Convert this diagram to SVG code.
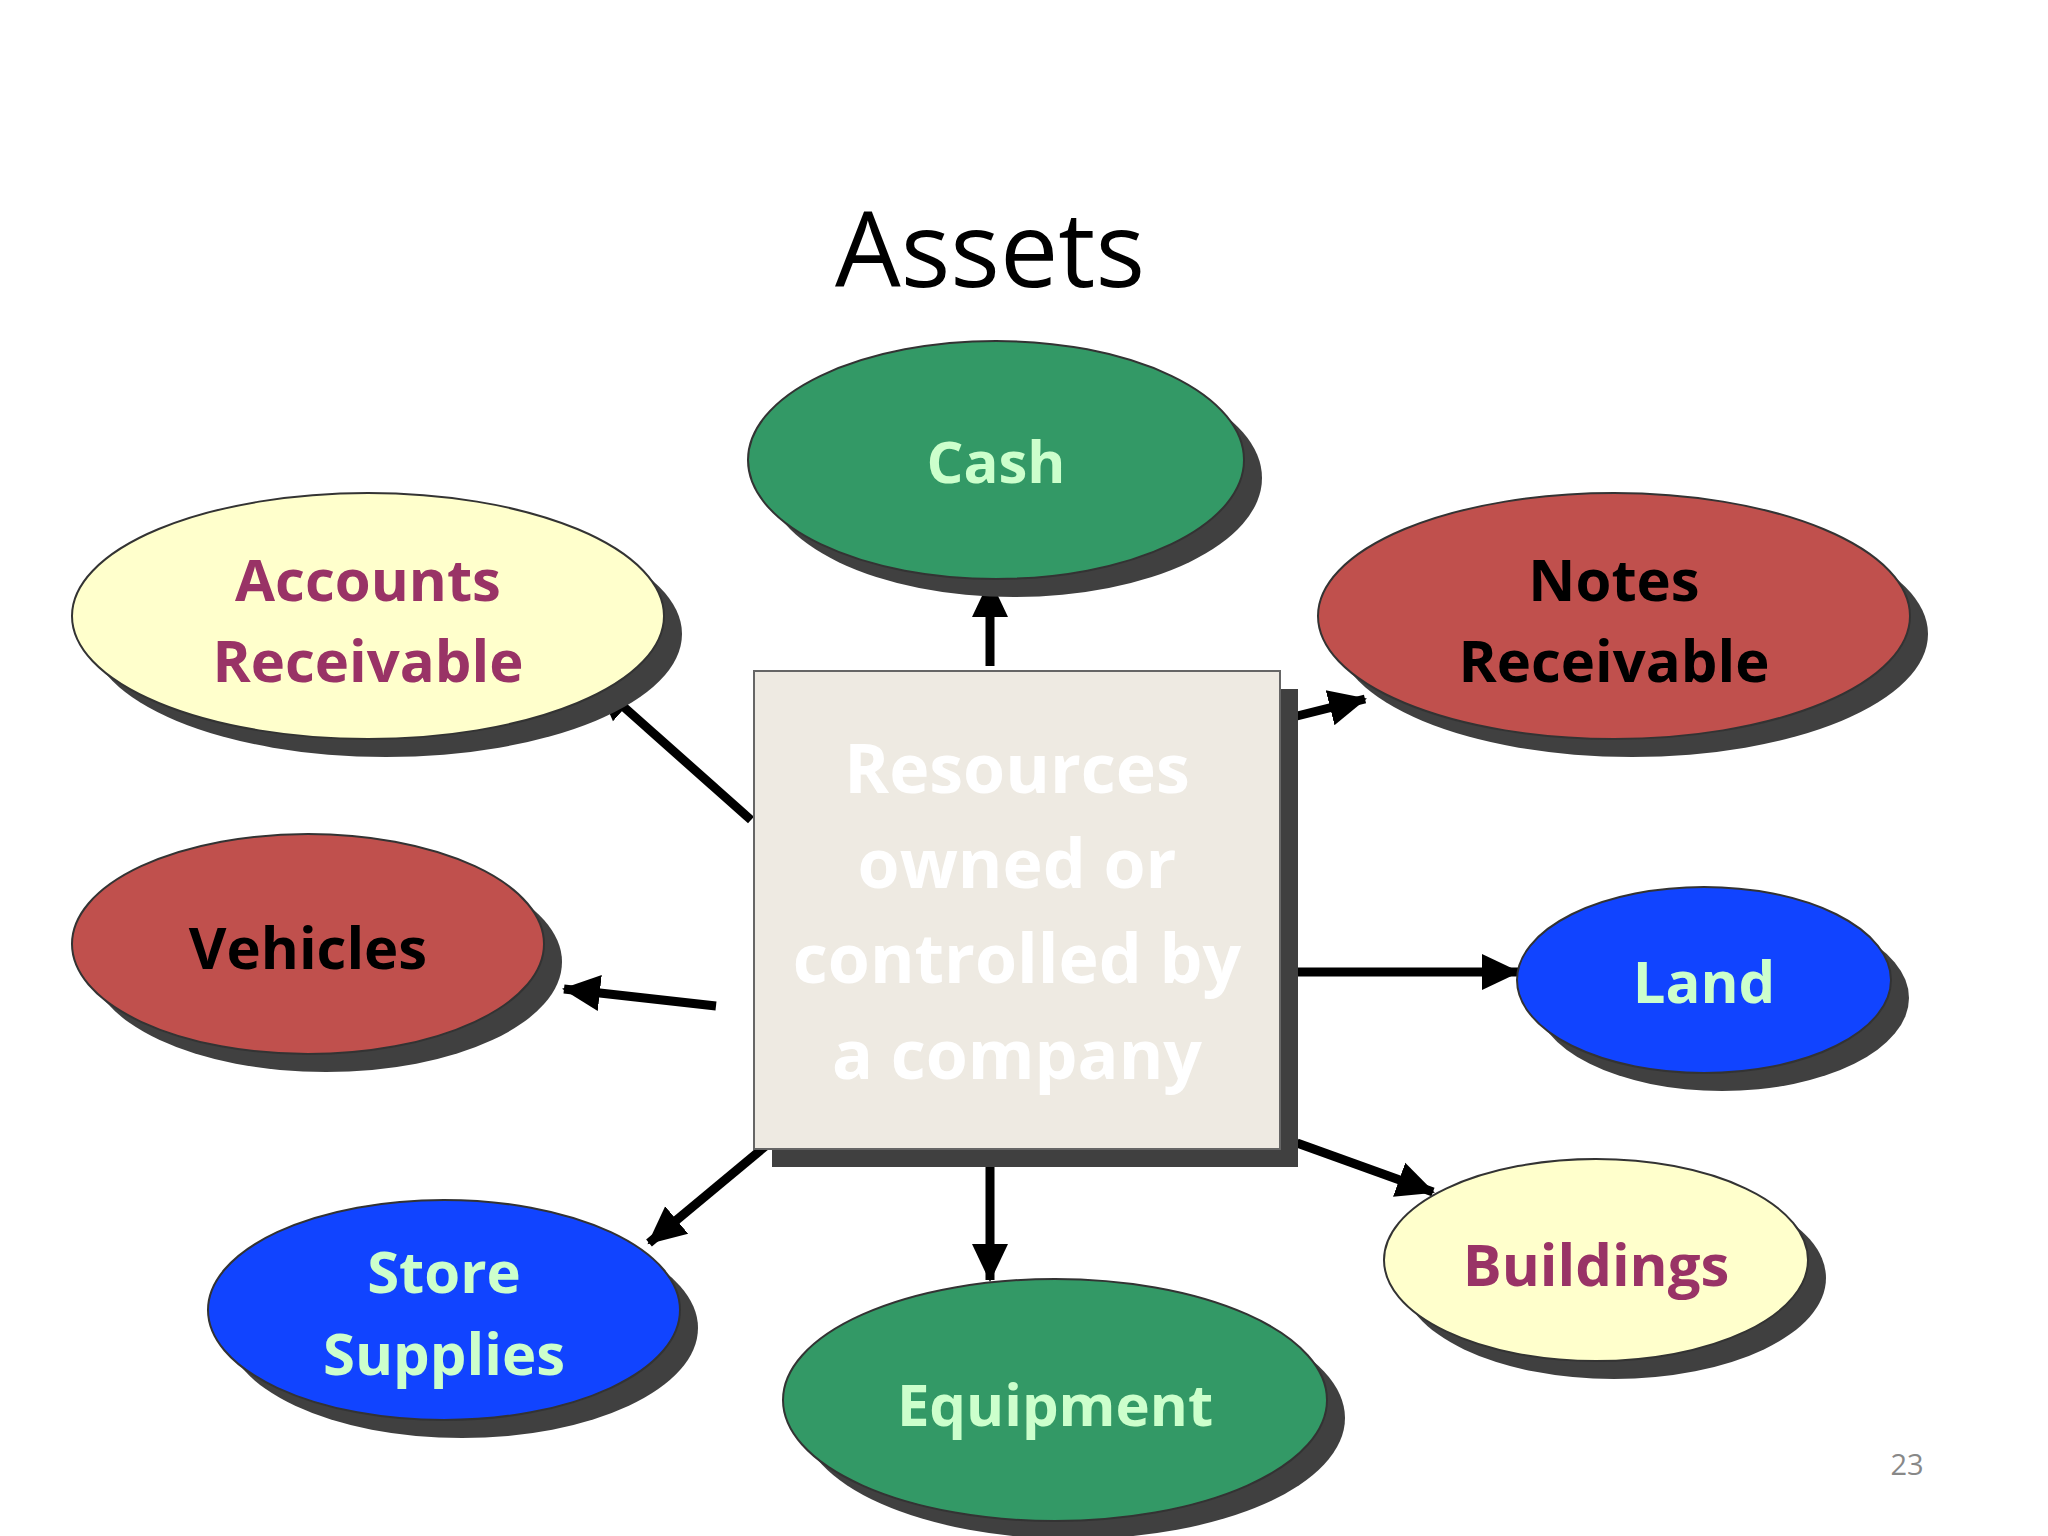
<svg xmlns="http://www.w3.org/2000/svg" width="2048" height="1536" viewBox="0 0 2048 1536">
<defs>
<style>
.sh{fill:#404040}
.e{stroke:#333;stroke-width:2}
.t{font-family:"Open Sans","Noto Sans",sans-serif;font-weight:bold;font-size:58px;text-anchor:middle}
.c{stroke:#000;stroke-width:9;fill:none;marker-end:url(#ah)}
</style>
<marker id="ah" markerUnits="userSpaceOnUse" markerWidth="40" markerHeight="40" viewBox="0 0 40 40" refX="36" refY="20" orient="auto">
<path d="M0,2 L38,20 L0,38 Z" fill="#000"/>
</marker>
</defs>
<rect width="2048" height="1536" fill="#fff"/>
<text x="990" y="287" font-family="Open Sans, Noto Sans, sans-serif" font-size="104" text-anchor="middle" fill="#000">Assets</text>
<g id="connectors">
<line class="c" x1="990" y1="666" x2="990" y2="581"/>
<line class="c" x1="751" y1="820" x2="598" y2="684"/>
<line class="c" x1="1297" y1="716" x2="1365" y2="699"/>
<line class="c" x1="716" y1="1006" x2="564" y2="989"/>
<line class="c" x1="1297" y1="972" x2="1518" y2="972"/>
<line class="c" x1="768" y1="1144" x2="649" y2="1243"/>
<line class="c" x1="990" y1="1160" x2="990" y2="1280"/>
<line class="c" x1="1297" y1="1143" x2="1433" y2="1192"/>
</g>
<g id="box">
<rect class="sh" x="772" y="689" width="526" height="478"/>
<rect x="754" y="671" width="526" height="478" fill="#EEEAE2" stroke="#666" stroke-width="2"/>
<g class="t" fill="#FFFFFF" style="font-size:68px">
<text x="1017" y="793">Resources</text>
<text x="1017" y="888">owned or</text>
<text x="1017" y="983">controlled by</text>
<text x="1017" y="1079">a company</text>
</g>
</g>
<g id="cash">
<ellipse class="sh" cx="1014" cy="478" rx="248" ry="119"/>
<ellipse class="e" cx="996" cy="460" rx="248" ry="119" fill="#339966"/>
<text class="t" x="996" y="483" fill="#CCFFCC">Cash</text>
</g>
<g id="ar">
<ellipse class="sh" cx="386" cy="634" rx="296" ry="123"/>
<ellipse class="e" cx="368" cy="616" rx="296" ry="123" fill="#FFFFCC"/>
<text class="t" x="368" y="601" fill="#993366">Accounts</text>
<text class="t" x="368" y="682" fill="#993366">Receivable</text>
</g>
<g id="nr">
<ellipse class="sh" cx="1632" cy="634" rx="296" ry="123"/>
<ellipse class="e" cx="1614" cy="616" rx="296" ry="123" fill="#C0504D"/>
<text class="t" x="1614" y="601" fill="#000">Notes</text>
<text class="t" x="1614" y="682" fill="#000">Receivable</text>
</g>
<g id="vehicles">
<ellipse class="sh" cx="326" cy="962" rx="236" ry="110"/>
<ellipse class="e" cx="308" cy="944" rx="236" ry="110" fill="#C0504D"/>
<text class="t" x="308" y="969" fill="#000">Vehicles</text>
</g>
<g id="land">
<ellipse class="sh" cx="1722" cy="998" rx="187" ry="93"/>
<ellipse class="e" cx="1704" cy="980" rx="187" ry="93" fill="#1144FF"/>
<text class="t" x="1704" y="1003" fill="#CCFFCC">Land</text>
</g>
<g id="storesupplies">
<ellipse class="sh" cx="462" cy="1328" rx="236" ry="110"/>
<ellipse class="e" cx="444" cy="1310" rx="236" ry="110" fill="#1144FF"/>
<text class="t" x="444" y="1293" fill="#CCFFCC">Store</text>
<text class="t" x="444" y="1375" fill="#CCFFCC">Supplies</text>
</g>
<g id="equipment">
<ellipse class="sh" cx="1073" cy="1418" rx="272" ry="121"/>
<ellipse class="e" cx="1055" cy="1400" rx="272" ry="121" fill="#339966"/>
<text class="t" x="1055" y="1426" fill="#CCFFCC">Equipment</text>
</g>
<g id="buildings">
<ellipse class="sh" cx="1614" cy="1278" rx="212" ry="101"/>
<ellipse class="e" cx="1596" cy="1260" rx="212" ry="101" fill="#FFFFCC"/>
<text class="t" x="1596" y="1286" fill="#993366">Buildings</text>
</g>
<text x="1907" y="1475" font-family="Open Sans, sans-serif" font-size="29" text-anchor="middle" fill="#888">23</text>
</svg>
